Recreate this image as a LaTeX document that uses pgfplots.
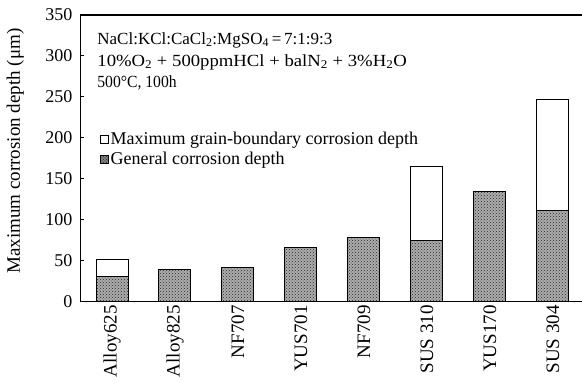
\documentclass[border=0pt]{standalone}
\usepackage{pgfplots}
\pgfplotsset{compat=1.18}
\usepackage{fontspec}
\setmainfont{Liberation Serif}
\usetikzlibrary{patterns,calc}
\begin{document}
\begin{tikzpicture}
\begin{axis}[
  at={(0,0)}, anchor=south west,
  scale only axis, width=506pt, height=287pt,
  xmin=-0.508, xmax=7.524, ymin=0, ymax=350,
  ybar stacked, bar width=32pt,
  xtick={0,...,7},
  xticklabels={Alloy625,Alloy825,NF707,YUS701,NF709,SUS 310,YUS170,SUS 304},
  x tick label style={rotate=90, anchor=east, font=\fontsize{19}{19}\selectfont},
  xtick style={draw=none},
  ytick={0,50,...,350}, ytick pos=left, tick align=inside, major tick length=4pt,
  y tick label style={font=\fontsize{18}{18}\selectfont, xshift=-4pt},
  /pgf/number format/assume math mode=true,
  ylabel={Maximum corrosion depth (μm)},
  every axis y label/.style={at={(rel axis cs:-0.128,0.525)}, rotate=90, anchor=center,
    font=\fontsize{19}{19}\selectfont},
  axis line style={line width=0.9pt},
  tick style={line width=0.7pt, black},
  reverse legend,
  legend cell align=left,
  legend style={draw=none, fill=none, at={(0.033,0.605)}, anchor=north west,
    font=\fontsize{18}{20}\selectfont, row sep=2pt},
]
\addplot[draw=black, line width=1pt, fill=black!32,
  postaction={pattern=crosshatch dots, pattern color=black!85},
  legend image code/.code={\draw[draw=black, line width=0.8pt, fill=black!50] (0pt,-4pt) rectangle (8pt,4pt);}]
  coordinates {(0,30.5) (1,38.7) (2,42) (3,65.9) (4,78) (5,74.4) (6,133.8) (7,111)};
\addlegendentry{General corrosion depth}
\addplot[draw=black, line width=1pt, fill=white,
  legend image code/.code={\draw[draw=black, line width=0.8pt, fill=white] (0pt,-4pt) rectangle (8pt,4pt);}]
  coordinates {(0,21.2) (1,0) (2,0) (3,0) (4,0) (5,90.2) (6,0) (7,135.8)};
\addlegendentry{Maximum grain-boundary corrosion depth}
\node[anchor=west, font=\fontsize{17}{17}\selectfont, inner sep=0pt] at (rel axis cs:0.034,0.912)
  {NaCl:KCl:CaCl\textsubscript{2}:MgSO\textsubscript{4}\,=\,7:1:9:3};
\node[anchor=west, font=\fontsize{17}{17}\selectfont, inner sep=0pt] at (rel axis cs:0.034,0.835)
  {\scalebox{1.1}[1]{10\%O\textsubscript{2} + 500ppmHCl + balN\textsubscript{2} + 3\%H\textsubscript{2}O}};
\node[anchor=west, font=\fontsize{17}{17}\selectfont, inner sep=0pt] at (rel axis cs:0.034,0.762)
  {\scalebox{0.92}[1]{500°C, 100h}};
\end{axis}
\draw[line width=1.3pt] ($(current axis.north west)+(0,-0.3pt)$) -- ($(current axis.north east)+(0,-0.3pt)$);
\pgfresetboundingbox
\path[use as bounding box] ($(current axis.south west)+(-80pt,-87.3pt)$) rectangle ($(current axis.south west)+(502pt,301.7pt)$);
\end{tikzpicture}
\end{document}
